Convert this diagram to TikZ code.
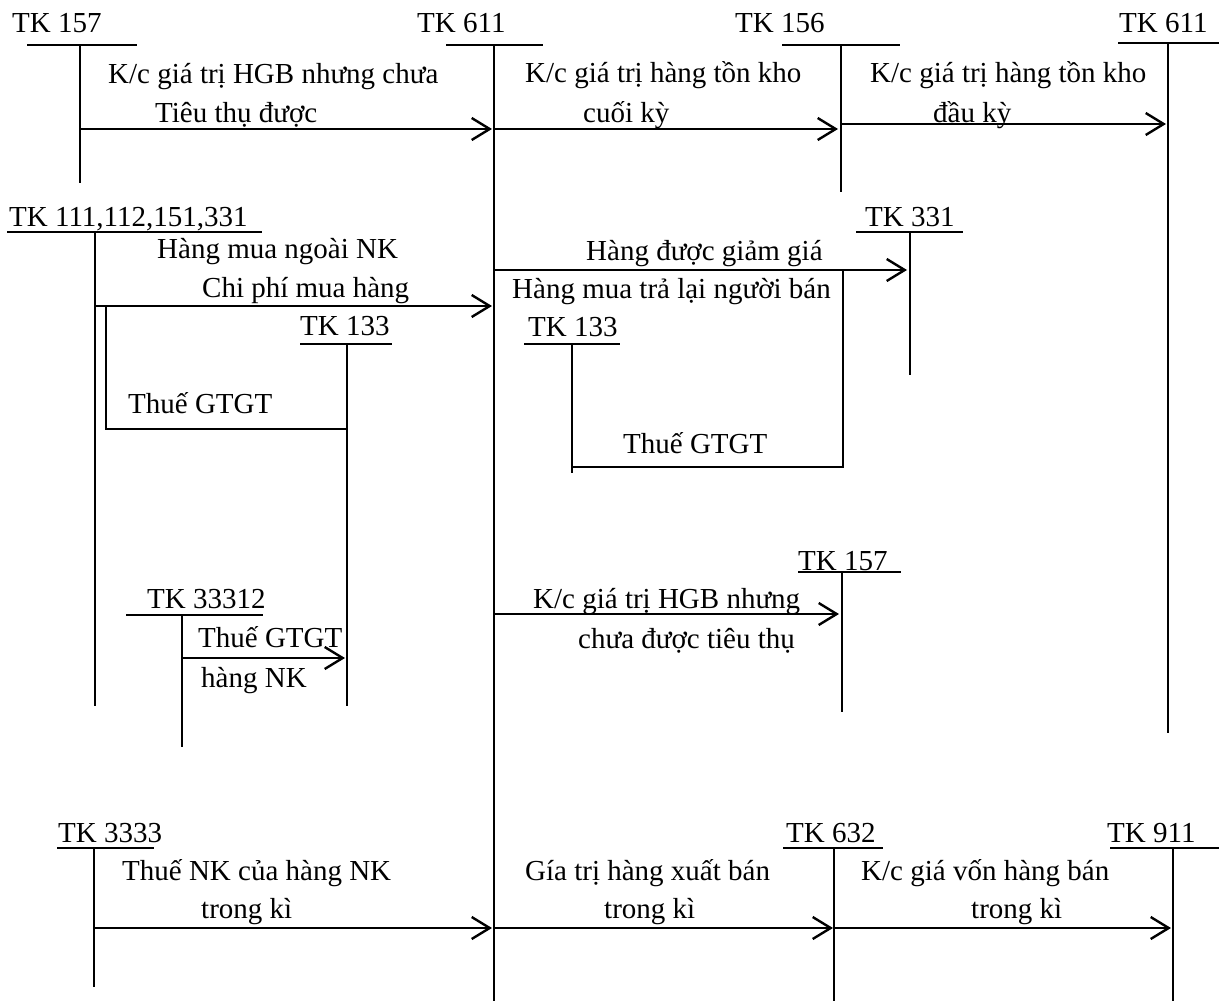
\documentclass[tikz,border=0pt]{standalone}
\usepackage{fontspec}
\setmainfont{Liberation Serif}
\usetikzlibrary{arrows.meta}
\begin{document}
\begin{tikzpicture}[x=1pt,y=-1pt,
  txt/.style={inner sep=0pt, anchor=base west, font=\fontsize{29}{35}\selectfont},
  tl/.style={line width=1.3pt},
  arr/.style={line width=2.4pt, -{Straight Barb[length=18pt,width=22pt,line width=2.4pt]}}]
\useasboundingbox (0,0) rectangle (1219,1001);

% ---------- row 1 ----------
\node[txt] (t157a) at (12,32) {TK 157};
\coordinate (b157aL) at (27,45);  \coordinate (b157aR) at (137,45);
\coordinate (v157a) at (80,45);   \coordinate (v157aE) at (80,183);
\draw[tl] (b157aL) -- (b157aR); \draw[tl] (v157a) -- (v157aE);

\node[txt] (t611) at (417,32) {TK 611};
\coordinate (b611L) at (446,45);  \coordinate (b611R) at (543,45);
\coordinate (v611) at (494,45);   \coordinate (v611E) at (494,1001);
\draw[tl] (b611L) -- (b611R); \draw[tl] (v611) -- (v611E);

\node[txt] (t156) at (735,32) {TK 156};
\coordinate (b156L) at (782,45);  \coordinate (b156R) at (900,45);
\coordinate (v156) at (841,45);   \coordinate (v156E) at (841,192);
\draw[tl] (b156L) -- (b156R); \draw[tl] (v156) -- (v156E);

\node[txt] (t611b) at (1119,32) {TK 611};
\coordinate (b611bL) at (1118,43); \coordinate (b611bR) at (1219,43);
\coordinate (v611b) at (1168,43);  \coordinate (v611bE) at (1168,733);
\draw[tl] (b611bL) -- (b611bR); \draw[tl] (v611b) -- (v611bE);

\node[txt] (l1a) at (108,83) {K/c giá trị HGB nhưng chưa};
\node[txt] (l1b) at (155,122) {Tiêu thụ được};
\coordinate (a1s) at (80,129);  \coordinate (a1e) at (492,129);
\draw[arr] (a1s) -- (a1e);

\node[txt] (l2a) at (525,82) {K/c giá trị hàng tồn kho};
\node[txt] (l2b) at (583,122) {cuối kỳ};
\coordinate (a2s) at (494,129); \coordinate (a2e) at (838,129);
\draw[arr] (a2s) -- (a2e);

\node[txt] (l3a) at (870,82) {K/c giá trị hàng tồn kho};
\node[txt] (l3b) at (933,122) {đầu kỳ};
\coordinate (a3s) at (841,124); \coordinate (a3e) at (1166,124);
\draw[arr] (a3s) -- (a3e);

% ---------- row 2 ----------
\node[txt] (t111) at (9,226) {TK 111,112,151,331};
\coordinate (b111L) at (7,232);   \coordinate (b111R) at (262,232);
\coordinate (v111) at (95,232);   \coordinate (v111E) at (95,706);
\draw[tl] (b111L) -- (b111R); \draw[tl] (v111) -- (v111E);

\node[txt] (l4a) at (157,258) {Hàng mua ngoài NK};
\node[txt] (l4b) at (202,297) {Chi phí mua hàng};
\coordinate (a4s) at (95,306);  \coordinate (a4e) at (492,306);
\draw[arr] (a4s) -- (a4e);

\node[txt] (t133a) at (300,335) {TK 133};
\coordinate (b133aL) at (300,344); \coordinate (b133aR) at (392,344);
\coordinate (v133a) at (347,344);  \coordinate (v133aE) at (347,706);
\draw[tl] (b133aL) -- (b133aR); \draw[tl] (v133a) -- (v133aE);

\coordinate (g1s) at (106,306); \coordinate (g1m) at (106,429); \coordinate (g1e) at (347,429);
\draw[tl] (g1s) -- (g1m) -- (g1e);
\node[txt] (l5) at (128,413) {Thuế GTGT};

\node[txt] (t331) at (865,226) {TK 331};
\coordinate (b331L) at (856,232); \coordinate (b331R) at (963,232);
\coordinate (v331) at (910,232);  \coordinate (v331E) at (910,375);
\draw[tl] (b331L) -- (b331R); \draw[tl] (v331) -- (v331E);

\node[txt] (l6a) at (586,260) {Hàng được giảm giá};
\coordinate (a6s) at (494,270); \coordinate (a6e) at (907,270);
\draw[arr] (a6s) -- (a6e);
\node[txt] (l6b) at (512,298) {Hàng mua trả lại người bán};

\node[txt] (t133b) at (528,336) {TK 133};
\coordinate (b133bL) at (524,344); \coordinate (b133bR) at (620,344);
\coordinate (v133b) at (572,344);  \coordinate (v133bE) at (572,473);
\draw[tl] (b133bL) -- (b133bR); \draw[tl] (v133b) -- (v133bE);

\coordinate (g2s) at (843,270); \coordinate (g2m) at (843,467); \coordinate (g2e) at (572,467);
\draw[tl] (g2s) -- (g2m) -- (g2e);
\node[txt] (l7) at (623,453) {Thuế GTGT};

% ---------- row 3 ----------
\node[txt] (t33312) at (147,608) {TK 33312};
\coordinate (b333L) at (126,615); \coordinate (b333R) at (263,615);
\coordinate (v333) at (182,615);  \coordinate (v333E) at (182,747);
\draw[tl] (b333L) -- (b333R); \draw[tl] (v333) -- (v333E);

\node[txt] (l8a) at (198,647) {Thuế GTGT};
\coordinate (a8s) at (182,658); \coordinate (a8e) at (345,658);
\draw[arr] (a8s) -- (a8e);
\node[txt] (l8b) at (201,687) {hàng NK};

\node[txt] (t157b) at (798,570) {TK 157};
\coordinate (b157bL) at (798,572); \coordinate (b157bR) at (901,572);
\coordinate (v157b) at (842,572);  \coordinate (v157bE) at (842,712);
\draw[tl] (b157bL) -- (b157bR); \draw[tl] (v157b) -- (v157bE);

\node[txt] (l9a) at (533,608) {K/c giá trị HGB nhưng};
\coordinate (a9s) at (494,614); \coordinate (a9e) at (839,614);
\draw[arr] (a9s) -- (a9e);
\node[txt] (l9b) at (578,648) {chưa được tiêu thụ};

% ---------- row 4 ----------
\node[txt] (t3333) at (58,842) {TK 3333};
\coordinate (b3333L) at (57,848); \coordinate (b3333R) at (154,848);
\coordinate (v3333) at (94,848);  \coordinate (v3333E) at (94,987);
\draw[tl] (b3333L) -- (b3333R); \draw[tl] (v3333) -- (v3333E);

\node[txt] (l10a) at (122,880) {Thuế NK của hàng NK};
\node[txt] (l10b) at (201,918) {trong kì};
\coordinate (a10s) at (94,928); \coordinate (a10e) at (492,928);
\draw[arr] (a10s) -- (a10e);

\node[txt] (t632) at (786,842) {TK 632};
\coordinate (b632L) at (783,848); \coordinate (b632R) at (883,848);
\coordinate (v632) at (834,848);  \coordinate (v632E) at (834,1001);
\draw[tl] (b632L) -- (b632R); \draw[tl] (v632) -- (v632E);

\node[txt] (t911) at (1107,842) {TK 911};
\coordinate (b911L) at (1110,848); \coordinate (b911R) at (1219,848);
\coordinate (v911) at (1173,848);  \coordinate (v911E) at (1173,1001);
\draw[tl] (b911L) -- (b911R); \draw[tl] (v911) -- (v911E);

\node[txt] (l11a) at (525,880) {Gía trị hàng xuất bán};
\node[txt] (l11b) at (604,918) {trong kì};
\coordinate (a11s) at (494,928); \coordinate (a11e) at (833,928);
\draw[arr] (a11s) -- (a11e);

\node[txt] (l12a) at (861,880) {K/c giá vốn hàng bán};
\node[txt] (l12b) at (971,918) {trong kì};
\coordinate (a12s) at (834,928); \coordinate (a12e) at (1171,928);
\draw[arr] (a12s) -- (a12e);
\end{tikzpicture}
\end{document}
